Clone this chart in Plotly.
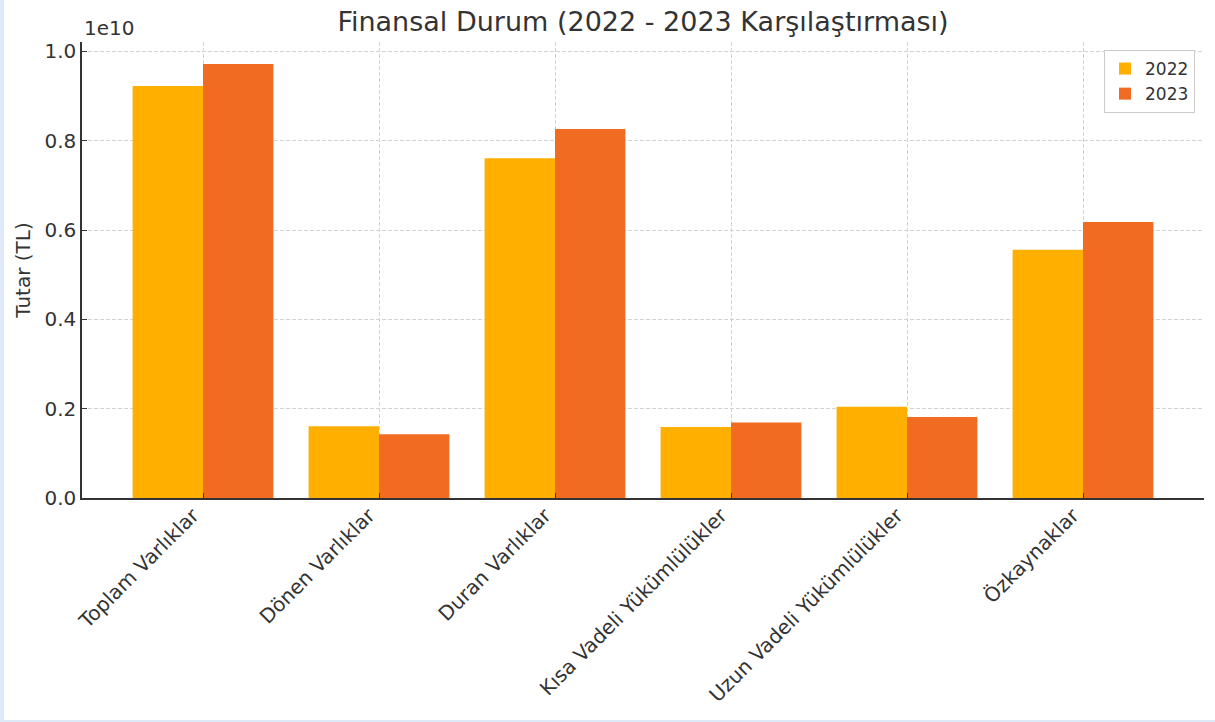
import plotly.graph_objects as go

categories = ["Toplam Varlıklar", "Dönen Varlıklar", "Duran Varlıklar",
              "Kısa Vadeli Yükümlülükler", "Uzun Vadeli Yükümlülükler", "Özkaynaklar"]
values_2022 = [9.225e9, 1.605e9, 7.605e9, 1.59e9, 2.045e9, 5.56e9]
values_2023 = [9.72e9, 1.43e9, 8.26e9, 1.69e9, 1.815e9, 6.18e9]
series_names = ["2022", "2023"]
y_tickvals = [0, 2e9, 4e9, 6e9, 8e9, 1e10]
y_ticktext = ["0.0", "0.2", "0.4", "0.6", "0.8", "1.0"]

COL_2022 = "#FFAF00"
COL_2023 = "#F26B22"
TXT = "#333333"
GRID = "#D3D3D3"
FONT = "DejaVu Sans"

W, H = 1215, 722
L, R, T, B = 82, 11, 42, 224
pw = W - L - R
ph = H - T - B

fig = go.Figure()
fig.add_trace(go.Bar(x=categories, y=values_2022, name=series_names[0],
                     marker=dict(color=COL_2022, line=dict(width=0))))
fig.add_trace(go.Bar(x=categories, y=values_2023, name=series_names[1],
                     marker=dict(color=COL_2023, line=dict(width=0))))

def px_x(p):
    return (p - L) / pw

def px_y(p):
    return (H - B - p) / ph

fig.update_layout(
    width=W, height=H,
    margin=dict(l=L, r=R, t=T, b=B, autoexpand=False),
    paper_bgcolor="#DDE9F7",
    plot_bgcolor="rgba(0,0,0,0)",
    font=dict(family=FONT, color=TXT, size=20),
    barmode="group", bargap=0.2, bargroupgap=0,
    title=dict(text="Finansal Durum (2022 - 2023 Karşılaştırması)",
               font=dict(size=27, color=TXT, family=FONT),
               x=0.5, xref="paper", xanchor="center",
               y=1 - 22 / H, yref="container", yanchor="middle"),
    legend=dict(x=px_x(1195), y=px_y(50), xanchor="right", yanchor="top",
                bgcolor="white", bordercolor="#CCCCCC", borderwidth=1,
                font=dict(size=17, color=TXT, family=FONT),
                itemwidth=30, tracegroupgap=2),
    shapes=[dict(type="rect", xref="paper", yref="paper",
                 x0=px_x(4), x1=px_x(W + 5), y0=px_y(720), y1=px_y(-5),
                 fillcolor="white", line=dict(width=0), layer="below")],
    annotations=[dict(text="1e10", xref="paper", yref="paper",
                      x=px_x(82), y=px_y(28), xanchor="left", yanchor="middle",
                      showarrow=False, font=dict(size=20, color=TXT, family=FONT))],
)

fig.update_xaxes(
    type="category", range=[-0.6875, 5.6875],
    showline=True, linecolor=TXT, linewidth=1.5, mirror=False,
    ticks="inside", ticklen=5, tickcolor=TXT, tickwidth=1.2,
    tickangle=-45, tickfont=dict(size=20, color=TXT, family=FONT),
    ticklabelshift=-10, ticklabelstandoff=-4,
    showgrid=True, gridcolor=GRID, griddash="4px,2px", gridwidth=1,
    zeroline=False,
)
fig.update_yaxes(
    range=[0, 1.021e10], tickvals=y_tickvals, ticktext=y_ticktext,
    showline=True, linecolor=TXT, linewidth=1.5, mirror=False,
    ticks="inside", ticklen=5, tickcolor=TXT, tickwidth=1.2,
    tickfont=dict(size=20, color=TXT, family=FONT),
    showgrid=True, gridcolor=GRID, griddash="4px,2px", gridwidth=1,
    zeroline=False,
    title=dict(text="Tutar (TL)", standoff=8, font=dict(size=20, color=TXT, family=FONT)),
)

fig.write_html("out.html", config={"displayModeBar": False})

with open("out.html", "r", encoding="utf-8") as f:
    html = f.read()
html = html.replace("<head>", "<head><style>html,body{margin:0;padding:0;overflow:hidden;}</style>", 1)
with open("out.html", "w", encoding="utf-8") as f:
    f.write(html)
